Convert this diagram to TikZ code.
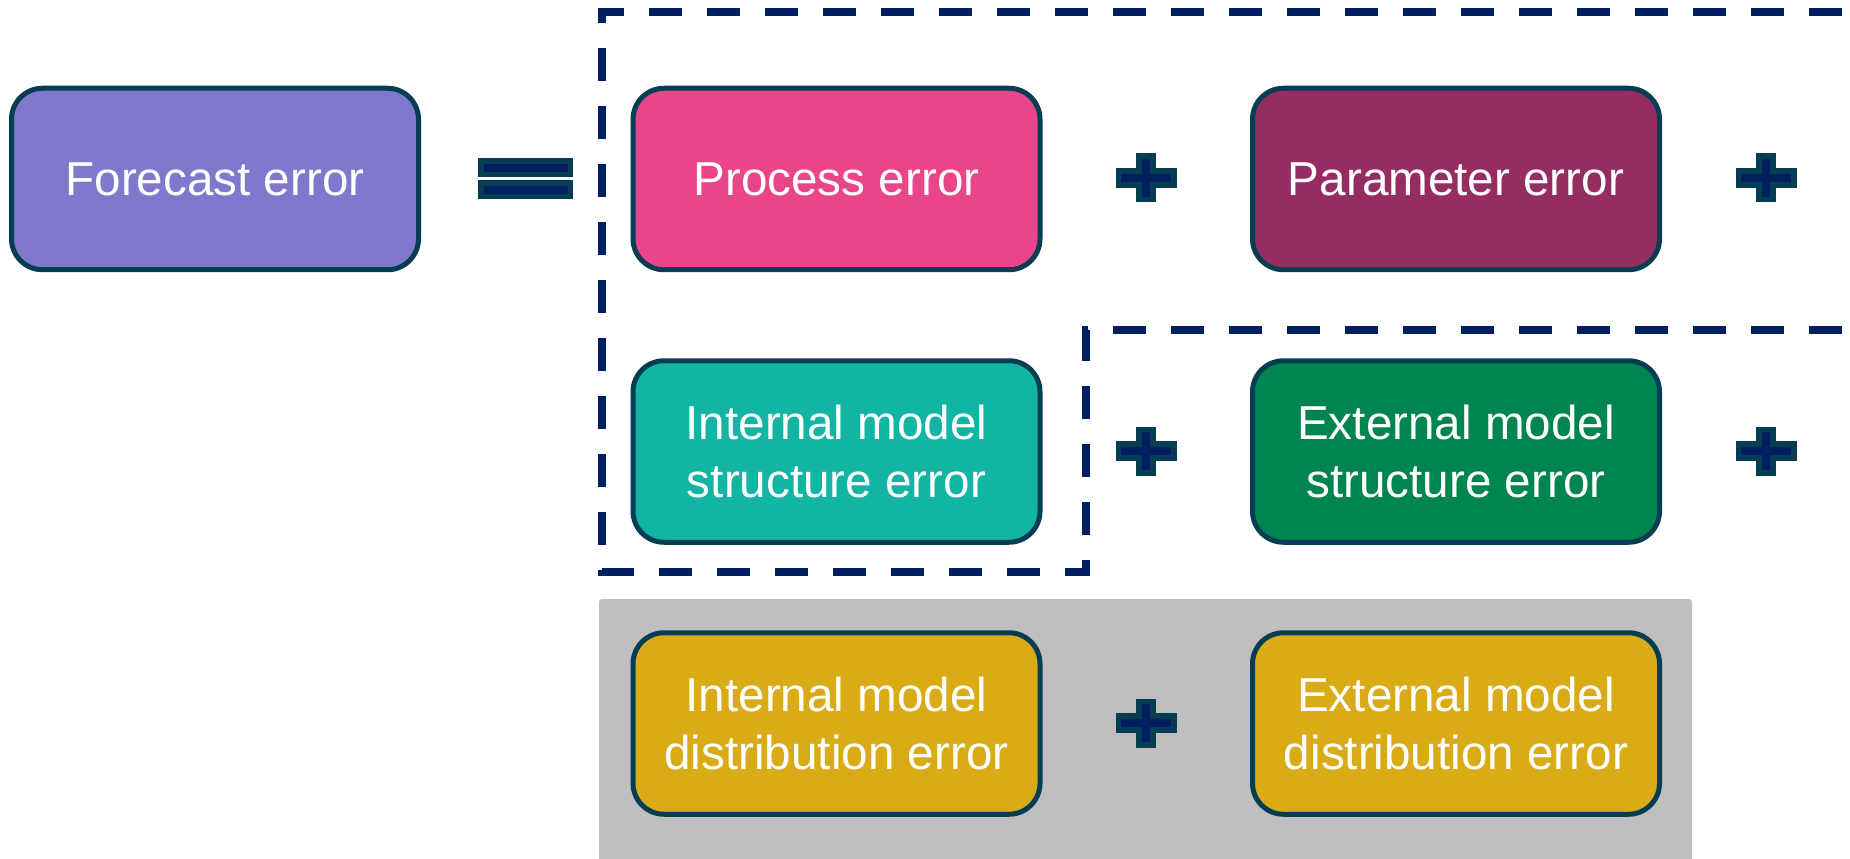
\documentclass[tikz,border=0pt]{standalone}
\usepackage{fontspec}
\setmainfont{Liberation Sans}
\usepackage{tikz}

\definecolor{forecastcol}{HTML}{8078CC}
\definecolor{processcol}{HTML}{E94589}
\definecolor{paramcol}{HTML}{952D62}
\definecolor{intstructcol}{HTML}{12B5A3}
\definecolor{extstructcol}{HTML}{008450}
\definecolor{distcol}{HTML}{D9AB17}
\definecolor{greycol}{HTML}{BFBFBF}
\definecolor{navycol}{HTML}{001F60}
\definecolor{edgecol}{HTML}{053E52}

\begin{document}
\begin{tikzpicture}[
  errbox/.style={draw=edgecol, line width=0.1cm, rounded corners=0.62cm,
    minimum width=8.14cm, minimum height=3.63cm, inner sep=0pt,
    align=center, text=white, font=\fontsize{27.1}{33.5}\selectfont},
  groupline/.style={draw=navycol, line width=0.16cm,
    dash pattern=on 0.66cm off 0.5cm},
  signline/.style={draw=edgecol, fill=navycol, line width=0.11cm},
  plusmark/.pic={
    \draw[signline] (-0.555,-0.14) -- (-0.14,-0.14) -- (-0.14,-0.435)
      -- (0.14,-0.435) -- (0.14,-0.14) -- (0.555,-0.14) -- (0.555,0.14)
      -- (0.14,0.14) -- (0.14,0.435) -- (-0.14,0.435) -- (-0.14,0.14)
      -- (-0.555,0.14) -- cycle;
  },
  equalsmark/.pic={
    \foreach \dy in {0.216,-0.216}
      \draw[signline] (-0.895,\dy-0.135) rectangle (0.895,\dy+0.135);
  }
]
  \useasboundingbox (0,0) rectangle (37,-17.18);
  \clip (0,0) rectangle (37,-17.18);

  % Distribution errors background
  \fill[greycol, rounded corners=0.06cm] (11.98,-11.98) rectangle (33.84,-17.6);

  % Dashed grouping outline
  \draw[groupline] (38,-0.24) -- (12.04,-0.24) -- (12.04,-11.43)
    -- (21.72,-11.43) -- (21.72,-6.6) -- (38,-6.6);

  % Error boxes
  \node[errbox, fill=forecastcol] (forecast) at (4.30,-3.58) {Forecast error};
  \node[errbox, fill=processcol] (process) at (16.73,-3.58) {Process error};
  \node[errbox, fill=paramcol] (param) at (29.12,-3.58) {Parameter error};
  \node[errbox, fill=intstructcol] (intstruct) at (16.73,-9.03) {Internal model\\structure error};
  \node[errbox, fill=extstructcol] (extstruct) at (29.12,-9.03) {External model\\structure error};
  \node[errbox, fill=distcol] (intdist) at (16.73,-14.47) {Internal model\\distribution error};
  \node[errbox, fill=distcol] (extdist) at (29.12,-14.47) {External model\\distribution error};

  % Signs
  \pic at (10.51,-3.576) {equalsmark};
  \foreach \y in {-3.56,-9.02} {
    \pic at (22.92,\y) {plusmark};
    \pic at (35.32,\y) {plusmark};
  }
  \pic at (22.92,-14.46) {plusmark};
\end{tikzpicture}
\end{document}
